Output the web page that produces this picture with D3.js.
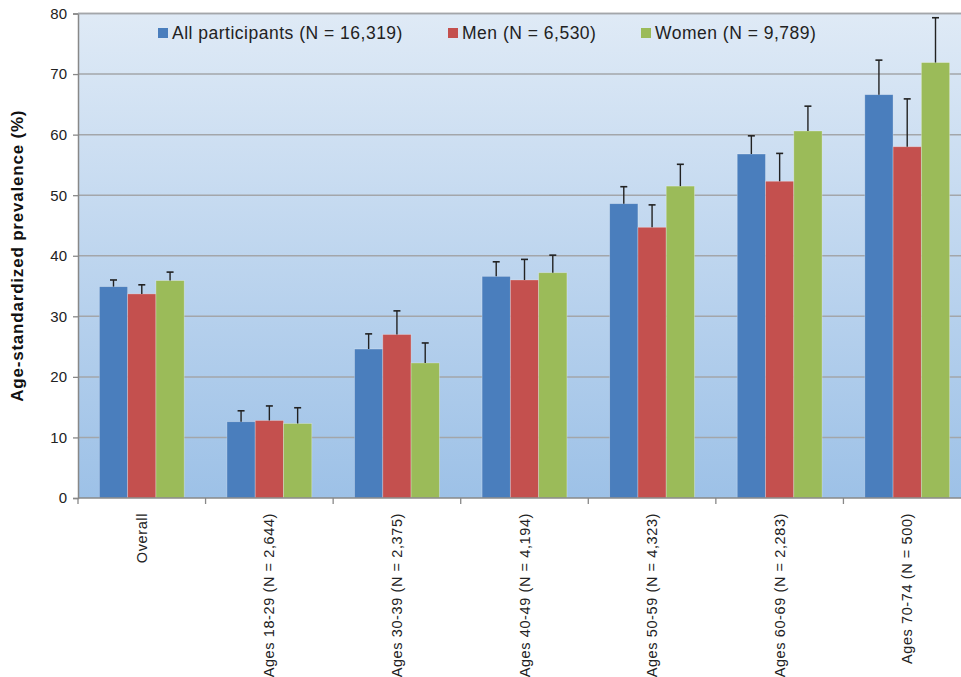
<!DOCTYPE html>
<html>
<head>
<meta charset="utf-8">
<script src="https://cdn.jsdelivr.net/npm/d3@7"></script>
<style>
  body { margin: 0; background: #fff; }
  svg { display: block; font-family: "Liberation Sans", Arial, sans-serif; }
</style>
</head>
<body>
<div id="chart"></div>
<script>
// categories and series
var categories = ["Overall", "Ages 18-29 (N = 2,644)", "Ages 30-39 (N = 2,375)", "Ages 40-49 (N = 4,194)",
    "Ages 50-59 (N = 4,323)", "Ages 60-69 (N = 2,283)", "Ages 70-74 (N = 500)"]
var seriesNames = ["All participants (N = 16,319)", "Men (N = 6,530)", "Women (N = 9,789)"]
var allValues = [34.9, 12.6, 24.6, 36.6, 48.6, 56.8, 66.6]
var allUpper = [36.0, 14.4, 27.1, 39.0, 51.4, 59.8, 72.3]
var menValues = [33.7, 12.8, 27.0, 36.0, 44.7, 52.3, 58.0]
var menUpper = [35.2, 15.2, 30.9, 39.4, 48.4, 56.9, 65.9]
var womenValues = [35.9, 12.3, 22.3, 37.2, 51.5, 60.6, 71.9]
var womenUpper = [37.3, 14.9, 25.6, 40.1, 55.1, 64.7, 79.3]
var yTicks = [0, 10, 20, 30, 40, 50, 60, 70, 80]
var colors = ["#4a7ebd", "#c4504e", "#9bbb59"]

var width = 961, height = 677
var margin = { top: 13.5, right: -10, bottom: 179, left: 78 }
var plotW = width - margin.left - margin.right
var plotH = height - margin.top - margin.bottom

var rows = []
categories.forEach(function (c, i) {
    rows.push({ cat: c, s: 0, value: allValues[i], upper: allUpper[i] })
    rows.push({ cat: c, s: 1, value: menValues[i], upper: menUpper[i] })
    rows.push({ cat: c, s: 2, value: womenValues[i], upper: womenUpper[i] })
})

var svg = d3.select("#chart").append("svg")
    .attr("width", width)
    .attr("height", height)

var defs = svg.append("defs")
var grad = defs.append("linearGradient")
    .attr("id", "bg")
    .attr("x1", 0).attr("y1", 0).attr("x2", 0).attr("y2", 1)
grad.append("stop").attr("offset", "0%").attr("stop-color", "#dfeaf6")
grad.append("stop").attr("offset", "100%").attr("stop-color", "#9dc1e7")

var chart = svg.append("g")
    .attr("transform", `translate(${margin.left},${margin.top})`)

var x0 = d3.scaleBand()
    .domain(categories)
    .range([0, plotW])
    .padding(0)
var x1 = d3.scaleBand()
    .domain([0, 1, 2])
    .range([0, x0.bandwidth()])
    .paddingInner(0)
    .paddingOuter(0.755)
var y = d3.scaleLinear()
    .domain([0, 80])
    .range([plotH, 0])

chart.append("rect")
    .attr("width", plotW)
    .attr("height", plotH)
    .attr("fill", "url(#bg)")

// gridlines
chart.selectAll(".grid")
    .data(yTicks.filter(d => d > 0))
    .join("line")
    .attr("class", "grid")
    .attr("x1", 0).attr("x2", plotW)
    .attr("y1", d => y(d)).attr("y2", d => y(d))
    .attr("stroke", "#a3a6aa")
    .attr("stroke-width", 1.5)

// bars
chart.selectAll(".bar")
    .data(rows)
    .join("rect")
    .attr("class", "bar")
    .attr("x", d => x0(d.cat) + x1(d.s))
    .attr("y", d => y(d.value))
    .attr("width", x1.bandwidth())
    .attr("height", d => plotH - y(d.value))
    .attr("fill", d => colors[d.s])
    .attr("stroke", "rgba(255,255,255,0.35)")
    .attr("stroke-width", 0.8)

// error bars
var err = chart.selectAll(".err")
    .data(rows)
    .join("g")
    .attr("class", "err")
    .attr("transform", d => `translate(${x0(d.cat) + x1(d.s) + x1.bandwidth() / 2},0)`)
err.append("line")
    .attr("y1", d => y(d.value)).attr("y2", d => y(d.upper))
    .attr("stroke", "#222").attr("stroke-width", 1.4)
err.append("line")
    .attr("x1", -3.5).attr("x2", 3.5)
    .attr("y1", d => y(d.upper)).attr("y2", d => y(d.upper))
    .attr("stroke", "#222").attr("stroke-width", 1.6)

// axes
var yAxis = d3.axisLeft(y).tickValues(yTicks).tickSize(5).tickPadding(6)
var yAxisGroup = chart.append("g").call(yAxis)
yAxisGroup.select(".domain").attr("stroke", "#888").attr("stroke-width", 1.5)
yAxisGroup.selectAll(".tick line").attr("stroke", "#888").attr("stroke-width", 1.3)
yAxisGroup.selectAll("text")
    .attr("font-size", 15)
    .attr("fill", "#222")
    .style("font-family", "Liberation Sans, Arial, sans-serif")

var xAxisGroup = chart.append("g")
    .attr("transform", `translate(0,${plotH})`)
xAxisGroup.append("line")
    .attr("x1", 0).attr("x2", plotW)
    .attr("stroke", "#888").attr("stroke-width", 1.5)
xAxisGroup.selectAll(".xtick")
    .data(categories)
    .join("line")
    .attr("class", "xtick")
    .attr("x1", d => x0(d)).attr("x2", d => x0(d))
    .attr("y1", 0).attr("y2", 6)
    .attr("stroke", "#888").attr("stroke-width", 1.3)
xAxisGroup.selectAll(".xlabel")
    .data(categories)
    .join("text")
    .attr("class", "xlabel")
    .attr("transform", d => `translate(${x0(d) + x0.bandwidth() / 2 + 5},15) rotate(-90)`)
    .attr("text-anchor", "end")
    .attr("font-size", 14.5)
    .attr("letter-spacing", 0.6)
    .attr("fill", "#222")
    .text(d => d)

// top border
chart.append("line")
    .attr("x1", 0).attr("x2", plotW)
    .attr("y1", 0).attr("y2", 0)
    .attr("stroke", "#a3a6aa").attr("stroke-width", 1.5)

// y axis title
svg.append("text")
    .attr("transform", `translate(23,${margin.top + plotH / 2}) rotate(-90)`)
    .attr("text-anchor", "middle")
    .attr("font-size", 17)
    .attr("font-weight", "bold")
    .attr("letter-spacing", 0.8)
    .attr("fill", "#111")
    .text("Age-standardized prevalence (%)")

// legend
var legendX = [158, 448, 641]
var legend = svg.selectAll(".legend")
    .data(seriesNames)
    .join("g")
    .attr("class", "legend")
    .attr("transform", (d, i) => `translate(${legendX[i]},33)`)
legend.append("rect")
    .attr("x", 0).attr("y", -5)
    .attr("width", 10).attr("height", 10)
    .attr("fill", (d, i) => colors[i])
legend.append("text")
    .attr("x", 14).attr("y", 0)
    .attr("dy", "0.35em")
    .attr("font-size", 17.5)
    .attr("letter-spacing", 0.5)
    .attr("fill", "#222")
    .text(d => d)
</script>
</body>
</html>
